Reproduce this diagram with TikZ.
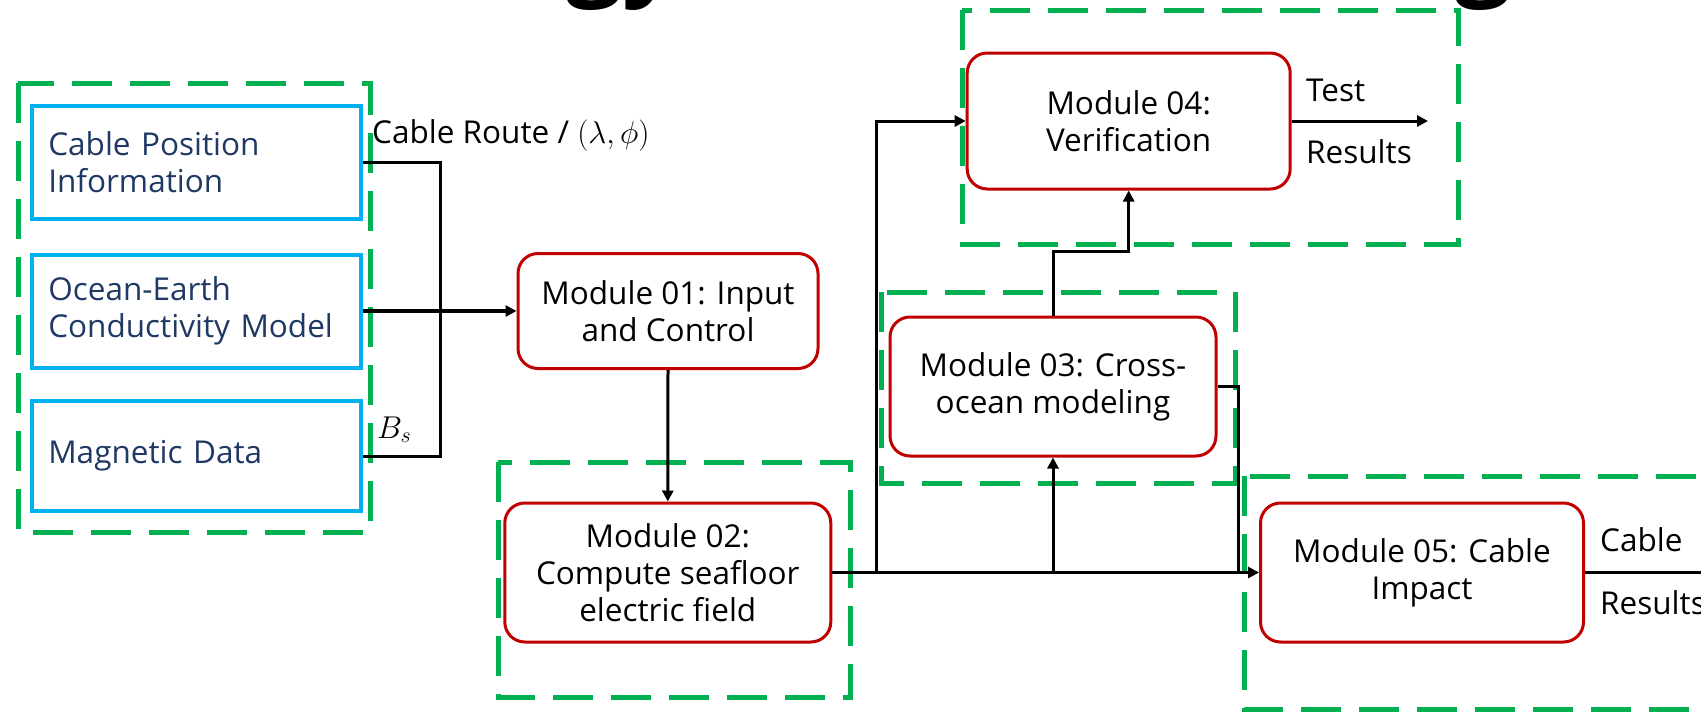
\RequirePackage{fix-cm}
\documentclass[tikz,border=0pt]{standalone}
\usepackage{fontspec}
\setmainfont{Open Sans}
\usetikzlibrary{arrows.meta}
\definecolor{grpgreen}{RGB}{0,176,80}
\definecolor{inblue}{RGB}{0,176,240}
\definecolor{modred}{RGB}{192,0,0}
\definecolor{navytext}{RGB}{31,56,100}

\begin{document}
\begin{tikzpicture}[x=1pt,y=-1pt,
  txt/.style={font=\fontsize{31.5}{37}\selectfont},
  inbox/.style={draw=inblue,line width=4pt,txt,text=navytext,align=left,
    text width=297pt,inner xsep=16pt,inner ysep=0pt,minimum height=#1},
  modbox/.style n args={2}{draw=modred,line width=3pt,rounded corners=20pt,
    txt,align=center,inner sep=0pt,minimum width=#1,minimum height=#2},
  group/.style={draw=grpgreen,line width=5pt,dash pattern=on 40pt off 18pt},
  wire/.style={draw=black,line width=3pt},
  flow/.style={wire,-{Triangle[length=11pt,width=11pt]}},
  lbl/.style={txt,anchor=base west,inner sep=0pt},
]
\useasboundingbox (0,0) rectangle (1701,712);

% fragments of the heading above the figure
\node[font=\fontsize{100}{100}\selectfont\bfseries,anchor=base west,inner sep=0pt]
  (headA) at (566,-13.5) {gy};
\node[font=\fontsize{100}{100}\selectfont\bfseries,anchor=base west,inner sep=0pt]
  (headB) at (1455,-13.5) {g};

% dashed group frames
\draw[group] (18,83) rectangle (370,532);
\draw[group] (498,462) rectangle (850,697);
\draw[group] (881,292) rectangle (1235,483);
\draw[group] (962,10) rectangle (1458,244);
\draw[group] (1244,476) rectangle (1730,709);

% input data
\node[inbox=113pt] (cpi) at (196.8,162.5) {Cable Position\\Information};
\node[inbox=113pt] (oe)  at (196.8,311)   {Ocean-Earth\\Conductivity Model};
\node[inbox=110pt] (mag) at (196.8,456)   {Magnetic Data};

% modules
\node[modbox={300pt}{115pt}]   (m01) at (668,311)     {Module 01: Input\\and Control};
\node[modbox={326pt}{139pt}]   (m02) at (667.8,572.5) {Module 02:\\Compute seafloor\\electric field};
\node[modbox={326pt}{139pt}]   (m03) at (1053,386.5)  {Module 03: Cross-\\ocean modeling};
\node[modbox={323pt}{136pt}]   (m04) at (1128.7,121)  {Module 04:\\Verification};
\node[modbox={323pt}{139pt}]   (m05) at (1422,572.5)  {Module 05: Cable\\Impact};

% labels
\node[lbl] (lroute) at (372,143) {Cable Route / $(\lambda,\phi)$};
\node[lbl] (lbs)    at (377,438) {$B_s$};
\node[lbl] (ltest)  at (1306,101) {Test};
\node[lbl] (lres1)  at (1306,163) {Results};
\node[lbl] (lcable) at (1600,551) {Cable};
\node[lbl] (lres2)  at (1600,614) {Results};

% junction points
\coordinate (jn) at (440,311);
\coordinate (b1) at (876,572.5);
\coordinate (b2) at (1053,572.5);
\coordinate (b3) at (1238,572.5);
\coordinate (testout) at (1428,121);
\coordinate (cableout) at (1716,572.5);

% connectors
\draw[wire] (cpi.east) -| (jn);
\draw[wire] (mag.east) -| (jn);
\draw[flow,line width=3.5pt] (oe.east) -- (m01.west);
\draw[flow] (m01.south) -- (m02.north);
\draw[flow] (m02.east) -- (m05.west);
\draw[flow] (b1) |- (m04.west);
\draw[flow] (b2) -- (m03.south);
\draw[flow] (m03.north) -- ++(0,-64) -| (m04.south);
\draw[wire] (m03.east) -| (b3);
\draw[flow] (m04.east) -- (testout);
\draw[flow] (m05.east) -- (cableout);
\end{tikzpicture}
\end{document}
